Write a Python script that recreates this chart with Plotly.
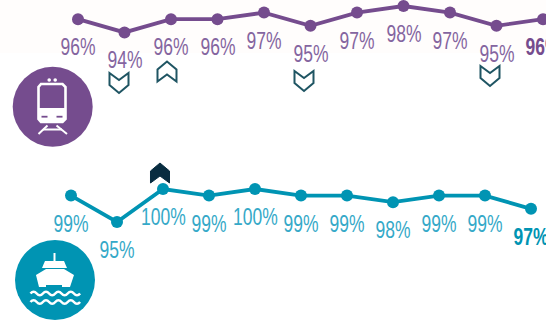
import plotly.graph_objects as go

W, H = 546, 320

periods = list(range(11))
train_values = [96, 94, 96, 96, 97, 95, 97, 98, 97, 95, 96]
ship_values = [99, 95, 100, 99, 100, 99, 99, 98, 99, 99, 97]
train_labels = [f"{v}%" for v in train_values]
ship_labels = [f"{v}%" for v in ship_values]

PURPLE = "#754C8E"
PURPLE_TXT = "#8465A0"
TEAL = "#0094B3"
TEAL_TXT = "#35A9C8"
CHEV = "#1F5563"
CHEV_DARK = "#082C40"
FONT = "Liberation Sans, Arial, sans-serif"


def X(x):
    return x / W


def Y(y):
    return 1 - y / H


def path(points, close=True):
    s = "M" + " L".join(f"{X(x):.5f},{Y(y):.5f}" for x, y in points)
    return s + (" Z" if close else "")


def shape_path(points, fill=None, line=None, width=0, close=True):
    return dict(type="path", xref="paper", yref="paper", path=path(points, close),
                fillcolor=fill if fill else "rgba(0,0,0,0)",
                line=dict(color=line if line else "rgba(0,0,0,0)", width=width), layer="above")


def seg(x0, y0, x1, y1, color="white", width=2):
    return shape_path([(x0, y0), (x1, y1)], None, color, width, close=False)


def circle(cx, cy, r, color):
    return dict(type="circle", xref="paper", yref="paper", x0=X(cx - r), x1=X(cx + r),
                y0=Y(cy + r), y1=Y(cy - r), fillcolor=color, line=dict(width=0), layer="above")


def chevron(cx, cy, up, fill=None, line=CHEV, width=2):
    s = -1 if up else 1
    pts = [(cx - 9.5, cy - 10 * s), (cx, cy - 3 * s), (cx + 9.5, cy - 10 * s),
           (cx + 9.5, cy + 2 * s), (cx, cy + 10 * s), (cx - 9.5, cy + 2 * s)]
    return shape_path(pts, fill, line, width)


def wave(y):
    x = 30.5
    s = f"M{X(x):.5f},{Y(y):.5f}"
    up = True
    while x < 79:
        nx = x + 6.2
        s += f" Q{X(x + 3.1):.5f},{Y(y + (-3.5 if up else 3.5)):.5f} {X(nx):.5f},{Y(y):.5f}"
        x = nx
        up = not up
    return dict(type="path", xref="paper", yref="paper", path=s,
                line=dict(color="white", width=2.6), layer="above")


fig = go.Figure()
fig.add_trace(go.Scatter(x=periods, y=train_values, mode="lines+markers", xaxis="x", yaxis="y",
                         line=dict(color=PURPLE, width=3.8), marker=dict(color=PURPLE, size=12),
                         cliponaxis=False, showlegend=False, hoverinfo="skip"))
fig.add_trace(go.Scatter(x=periods, y=ship_values, mode="lines+markers", xaxis="x2", yaxis="y2",
                         line=dict(color=TEAL, width=3.8), marker=dict(color=TEAL, size=12),
                         cliponaxis=False, showlegend=False, hoverinfo="skip"))

annotations = []
for series, labels, xr, yr, col in [(train_values, train_labels, "x", "y", PURPLE_TXT),
                                    (ship_values, ship_labels, "x2", "y2", TEAL_TXT)]:
    for i, (v, t) in enumerate(zip(series, labels)):
        last = i == len(series) - 1
        annotations.append(dict(x=periods[i], y=v, xref=xr, yref=yr, text=f"<b>{t}</b>" if last else t,
                                showarrow=False, yshift=-28, xanchor="center", yanchor="middle",
                                font=dict(family=FONT, size=23, color=col if not last else (PURPLE if xr == "x" else TEAL))))

shapes = [dict(type="rect", xref="paper", yref="paper", x0=0, x1=1, y0=Y(53), y1=1,
               fillcolor="#FFFDFC", line=dict(width=0), layer="below")]

# train icon
shapes += [
    circle(52.7, 106.7, 40, PURPLE),
    shape_path([(41, 84), (62.5, 84), (65.5, 87), (65.5, 119), (62.5, 122), (41, 122), (38.5, 119), (38.5, 87)],
               None, "white", 2.6),
    shape_path([(38, 108), (66, 108), (66, 119), (63, 122), (41, 122), (38, 119)], "white"),
    circle(49.2, 80, 1.8, "white"), circle(55.2, 80, 1.8, "white"),
    seg(41.5, 116.7, 47.5, 116.7, PURPLE, 1.8), seg(56.5, 116.7, 62.5, 116.7, PURPLE, 1.8),
    seg(47.5, 125.5, 38.5, 134), seg(56.5, 125.5, 67, 134), seg(43, 129.5, 62, 129.5),
]

# ship icon
shapes += [
    circle(55, 280, 40, TEAL),
    seg(54.5, 253, 54.5, 262),
    shape_path([(42, 268), (45, 261), (64, 261), (67, 268)], "white"),
    shape_path([(36, 275), (46, 269), (64, 269), (74, 275), (70, 287), (62, 287), (62, 285), (46, 285), (46, 287), (39, 287)], "white"),
    wave(293.5), wave(302),
]

# change markers
shapes += [
    chevron(119, 83, False), chevron(167, 71.5, True), chevron(304, 81, False), chevron(490, 76, False),
    chevron(160, 173, True, fill=CHEV_DARK, line=CHEV_DARK, width=1),
]

# 46.5 px per period and 6.6 px per percentage point
fig.update_layout(
    width=W, height=H, margin=dict(l=0, r=0, t=0, b=0, pad=0),
    paper_bgcolor="white", plot_bgcolor="rgba(0,0,0,0)", showlegend=False,
    xaxis=dict(range=[-78 / 46.5, (W - 78) / 46.5], visible=False, domain=[0, 1]),
    yaxis=dict(range=[98 - (H - 6) / 6.6, 98 + 6 / 6.6], visible=False, domain=[0, 1]),
    xaxis2=dict(range=[-71 / 46, (W - 71) / 46], visible=False, overlaying="x", domain=[0, 1]),
    yaxis2=dict(range=[100 - (H - 189) / 6.6, 100 + 189 / 6.6], visible=False, overlaying="y", domain=[0, 1]),
    shapes=shapes, annotations=annotations,
)

# The reference type is condensed and no narrow face is installed, so narrow the real text.
post = """
document.body.style.margin='0';document.body.style.overflow='hidden';
document.querySelectorAll('.annotation-text').forEach(function(t){
  var n=t.getComputedTextLength();
  t.setAttribute('textLength',(n*0.76).toFixed(1));
  t.setAttribute('lengthAdjust','spacingAndGlyphs');
});
"""
fig.write_html("out.html", config=dict(displayModeBar=False), post_script=post)
